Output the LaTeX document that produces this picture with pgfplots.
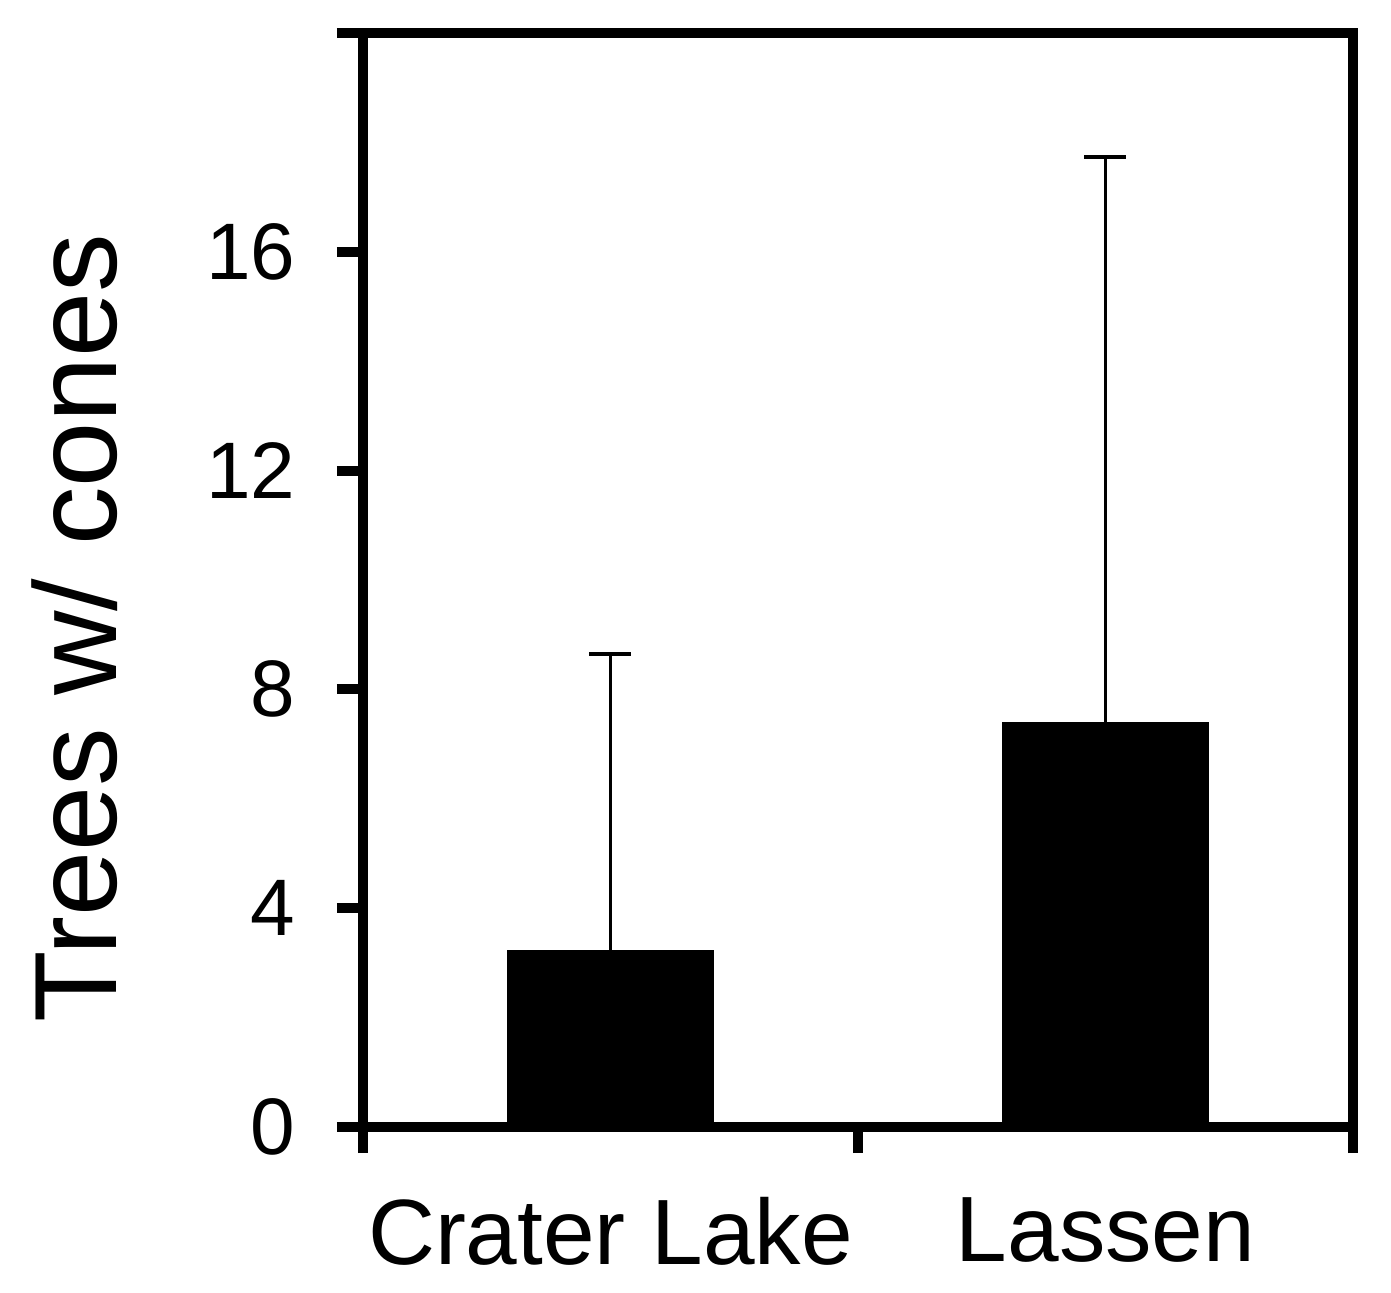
\documentclass[border=0pt]{standalone}
\usepackage{pgfplots}
\pgfplotsset{compat=1.18}
\usepackage{fontspec}
\setmainfont{Liberation Sans}
\begin{document}
\begin{tikzpicture}
\path (-3.63,-1.66) rectangle (10.28,11.27);
\begin{axis}[
  at={(0,0)}, anchor=south west,
  scale only axis, width=9.9cm, height=10.94cm,
  xmin=0, xmax=2, ymin=0, ymax=20,
  ytick={0,4,8,12,16,20}, yticklabels={0,4,8,12,16,{}},
  xtick={0,1,2}, xticklabels={},
  extra x ticks={0.5,1.5}, extra x tick labels={Crater Lake,Lassen},
  extra x tick style={major tick length=0pt, grid=none},
  tick align=outside, tick pos=left,
  major tick length=0.26cm,
  axis line style={line width=2.85pt, line cap=rect},
  every tick/.style={black, line width=2.85pt},
  yticklabel style={inner sep=0pt, anchor=east, xshift=-0.41cm, font=\fontsize{22.8}{27}\selectfont},
  xticklabel style={inner sep=0pt, anchor=north, yshift=-0.7cm, font=\fontsize{26.4}{31}\selectfont},
  ylabel={Trees w/ cones},
  ylabel style={inner sep=0pt, at={(axis description cs:-0.291,0.456)}, anchor=center, font=\fontsize{33.3}{40}\selectfont},
]
\addplot[ybar, bar width=2.05cm, fill=black, draw=black,
  error bars/.cd, y dir=plus, y explicit,
  error bar style={line width=0.9pt, black},
  error mark options={black, mark size=0.21cm, line width=1.1pt, rotate=90}]
  coordinates {(0.5,3.22) +- (0,5.43) (1.5,7.39) +- (0,10.34)};
\end{axis}
\end{tikzpicture}
\end{document}
